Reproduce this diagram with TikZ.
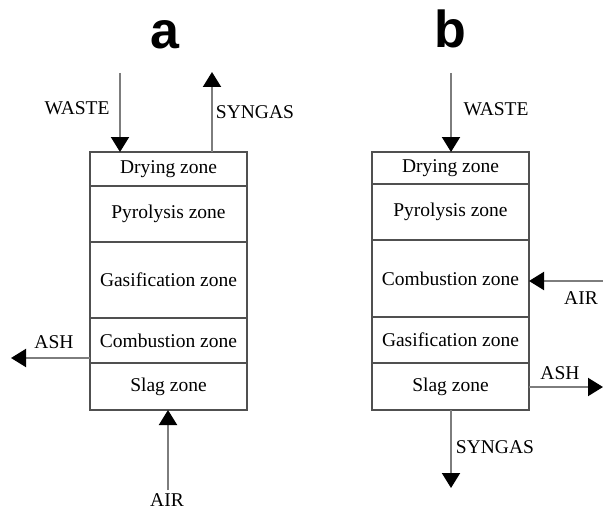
\documentclass[tikz,border=0pt]{standalone}
\usepackage{fontspec}
\setmainfont{Liberation Serif}
\newfontfamily\headfont{Liberation Sans}
\usepackage{xcolor}
\usetikzlibrary{positioning,arrows.meta}
\definecolor{boxgray}{RGB}{80,80,80}
\definecolor{flowgray}{RGB}{125,125,125}

\begin{document}
\begin{tikzpicture}[x=1pt,y=1pt,
    zone/.style={draw=boxgray, line width=1.6pt, minimum width=157pt, inner sep=0pt, outer sep=0pt,
      font=\fontsize{19.5}{22}\selectfont},
    flow/.style={draw=flowgray, line width=2pt, -{Triangle[width=18pt,length=15pt,black]}},
    lbl/.style={inner sep=0pt, font=\fontsize{19.5}{22}\selectfont},
    panel/.style={inner sep=0pt, anchor=base, font=\headfont\bfseries\fontsize{52}{56}\selectfont}]
  \useasboundingbox (0,0) rectangle (603,-511);

  % panel titles
  \node[panel] (titleA) at (165,-49) {a};
  \node[panel] (titleB) at (450,-48) {b};

  % reactor a
  \node[zone, minimum height=34pt, anchor=north] (dryA) at (168.5,-152) {Drying zone};
  \node[zone, minimum height=56pt, below=0pt of dryA] (pyrA) {Pyrolysis zone};
  \node[zone, minimum height=76pt, below=0pt of pyrA] (gasA) {Gasification zone};
  \node[zone, minimum height=45pt, below=0pt of gasA] (comA) {Combustion zone};
  \node[zone, minimum height=47pt, below=0pt of comA] (slagA) {Slag zone};

  % flows of a
  \coordinate (wasteA) at (120,-73);
  \coordinate (syngasA) at (212,-72);
  \coordinate (ashA) at (11,-358);
  \coordinate (airA) at (168,-490);
  \draw[flow] (wasteA) -- (wasteA |- dryA.north);
  \draw[flow] (syngasA |- dryA.north) -- (syngasA);
  \draw[flow] (ashA -| comA.west) -- (ashA);
  \draw[flow] (airA) -- (airA |- slagA.south);
  \node[lbl] (wasteAtxt) at (77,-108) {WASTE};
  \node[lbl] (syngasAtxt) at (255,-112) {SYNGAS};
  \node[lbl] (ashAtxt) at (54,-342) {ASH};
  \node[lbl] (airAtxt) at (167,-500) {AIR};

  % reactor b
  \node[zone, minimum height=32pt, anchor=north] (dryB) at (450.5,-152) {Drying zone};
  \node[zone, minimum height=56pt, below=0pt of dryB] (pyrB) {Pyrolysis zone};
  \node[zone, minimum height=77pt, below=0pt of pyrB] (comB) {Combustion zone};
  \node[zone, minimum height=46pt, below=0pt of comB] (gasB) {Gasification zone};
  \node[zone, minimum height=47pt, below=0pt of gasB] (slagB) {Slag zone};

  % flows of b
  \coordinate (wasteB) at (451,-73);
  \coordinate (airB) at (603,-281);
  \coordinate (ashB) at (603,-387);
  \coordinate (syngasB) at (451,-488);
  \draw[flow] (wasteB) -- (wasteB |- dryB.north);
  \draw[flow] (airB) -- (airB -| comB.east);
  \draw[flow] (ashB -| slagB.east) -- (ashB);
  \draw[flow] (syngasB |- slagB.south) -- (syngasB);
  \node[lbl] (wasteBtxt) at (496,-109) {WASTE};
  \node[lbl] (airBtxt) at (581,-298) {AIR};
  \node[lbl] (ashBtxt) at (560,-373) {ASH};
  \node[lbl] (syngasBtxt) at (495,-447) {SYNGAS};
\end{tikzpicture}
\end{document}
